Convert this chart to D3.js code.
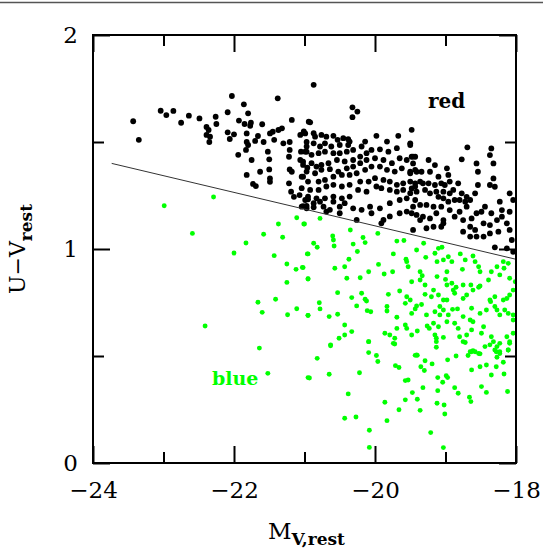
<!DOCTYPE html>
<html>
<head>
<meta charset="utf-8">
<script src="https://cdn.jsdelivr.net/npm/d3@7"></script>
<style>
  html, body { margin: 0; padding: 0; background: #fff; }
  svg { display: block; }
  .tick text { font-family: "DejaVu Serif", serif; font-size: 23px; fill: #000; }
</style>
</head>
<body>
<svg id="chart" width="543" height="553"></svg>
<script>
// Rest-frame colour-magnitude diagram: red sequence (black) vs blue cloud (green)
const xDomain = [-24, -18];
const yDomain = [0, 2];
const xMajorTicks = [-24, -22, -20, -18];
const xMinorTicks = [-23, -21, -19];
const yMajorTicks = [0, 1, 2];
const yMinorTicks = [0.5, 1.5];

// separating line between the two populations [M_V, U-V]
const dividerLine = [[-23.735, 1.400], [-18.0, 0.952]];

// red-sequence galaxies [M_V, U-V]
const redGalaxies = [
  [-23.43,1.597],[-23.35,1.51],[-23.04,1.646],[-22.96,1.626],[-22.86,1.645],[-22.75,1.59],[-22.64,1.623],[-22.49,1.61],
  [-22.39,1.57],[-22.36,1.556],[-22.39,1.533],[-22.34,1.525],[-22.35,1.50],[-22.26,1.618],[-22.25,1.584],[-22.09,1.639],
  [-22.09,1.545],[-22.06,1.514],[-22.0,1.536],[-22.03,1.715],[-21.93,1.60],[-21.86,1.676],[-21.80,1.634],[-21.85,1.584],
  [-21.76,1.59],[-21.77,1.576],[-21.94,1.44],[-21.82,1.54],[-21.82,1.50],[-21.80,1.486],[-21.83,1.463],[-21.75,1.416],
  [-21.82,1.346],[-21.73,1.304],[-21.69,1.294],[-21.70,1.505],[-21.66,1.528],[-21.60,1.583],[-21.58,1.50],[-21.63,1.361],
  [-21.52,1.455],[-21.50,1.419],[-21.50,1.372],[-21.49,1.33],[-21.49,1.314],[-21.49,1.54],[-21.45,1.548],[-21.43,1.51],
  [-21.37,1.556],[-21.38,1.704],[-21.32,1.564],[-21.30,1.494],[-21.21,1.50],[-21.18,1.603],[-21.21,1.463],[-21.22,1.431],
  [-21.21,1.372],[-21.18,1.361],[-21.22,1.307],[-21.19,1.268],[-21.15,1.244],[-21.07,1.252],[-21.04,1.338],[-21.02,1.408],
  [-21.05,1.455],[-21.06,1.533],[-20.99,1.54],[-20.97,1.50],[-20.97,1.455],[-21.02,1.20],[-20.97,1.19],[-20.95,1.232],
  [-20.94,1.595],[-20.96,1.38],[-20.87,1.767],[-20.32,1.662],
  [-20.92,1.592],[-20.32,1.616],[-20.25,1.642],[-21.01,1.549],[-20.87,1.541],[-20.85,1.525],[-20.76,1.533],[-20.69,1.525],
  [-20.59,1.529],[-20.53,1.510],[-20.45,1.518],[-20.38,1.513],[-20.36,1.502],[-20.38,1.486],[-20.50,1.486],[-20.62,1.479],
  [-20.71,1.494],[-20.78,1.479],[-20.87,1.494],[-20.97,1.479],[-20.99,1.455],[-20.90,1.440],[-20.80,1.448],[-20.71,1.455],
  [-20.59,1.448],[-20.50,1.448],[-20.40,1.455],[-20.31,1.463],[-20.19,1.479],[-20.14,1.502],[-19.98,1.529],[-19.83,1.502],
  [-19.67,1.529],[-19.48,1.557],[-19.50,1.494],[-19.69,1.471],[-19.81,1.455],[-19.93,1.466],[-20.05,1.463],[-20.12,1.448],
  [-20.21,1.432],[-20.31,1.416],[-20.43,1.409],[-20.54,1.416],[-20.66,1.401],[-20.76,1.393],[-20.83,1.385],[-20.90,1.401],
  [-21.02,1.393],[-21.06,1.416],[-20.97,1.362],[-20.85,1.354],[-20.76,1.370],[-20.64,1.373],[-20.52,1.362],[-20.40,1.377],
  [-20.31,1.385],[-20.21,1.401],[-20.12,1.416],[-20.00,1.424],[-19.88,1.416],[-19.76,1.401],[-19.65,1.424],[-19.55,1.416],
  [-19.46,1.432],[-19.43,1.370],[-19.50,1.354],[-19.62,1.377],[-19.72,1.362],[-19.83,1.370],[-19.93,1.385],[-20.05,1.385],
  [-20.14,1.370],[-20.26,1.354],[-20.36,1.346],[-20.47,1.346],[-20.59,1.338],[-20.71,1.323],[-20.80,1.315],[-20.95,1.315],
  [-21.02,1.338],[-21.04,1.284],[-20.92,1.276],[-20.80,1.276],[-20.69,1.292],[-20.59,1.300],[-20.47,1.292],[-20.36,1.300],
  [-20.21,1.315],[-20.09,1.315],[-20.00,1.331],[-19.88,1.323],[-19.79,1.315],[-19.69,1.300],[-19.60,1.307],[-19.50,1.315],
  [-19.43,1.292],[-19.50,1.261],[-19.60,1.276],[-19.69,1.268],[-19.79,1.276],[-19.91,1.284],[-19.98,1.292],[-20.12,1.268],
  [-20.24,1.276],[-20.36,1.245],[-20.47,1.237],[-20.59,1.245],[-20.71,1.237],[-20.83,1.237],[-20.95,1.245],[-20.99,1.229],
  [-21.04,1.198],[-20.97,1.201],[-20.87,1.195],[-20.73,1.198],[-20.64,1.183],[-20.50,1.198],[-20.43,1.214],[-20.31,1.190],
  [-20.19,1.183],[-20.07,1.198],[-19.93,1.190],[-19.79,1.214],[-19.65,1.229],[-19.55,1.237],[-19.46,1.198],[-19.55,1.175],
  [-19.65,1.167],[-19.79,1.152],[-19.88,1.136],[-19.91,1.120],[-20.05,1.167],[-20.26,1.136],[-20.50,1.167],[-20.69,1.175],
  [-20.59,1.221],[-20.78,1.221],[-20.87,1.214],
  [-19.50,1.486],[-19.48,1.431],[-19.43,1.431],[-19.46,1.400],[-19.50,1.361],[-19.41,1.361],[-19.34,1.361],[-19.24,1.416],
  [-19.22,1.361],[-19.15,1.392],[-19.10,1.338],[-19.06,1.307],[-18.98,1.377],[-18.96,1.346],[-18.94,1.315],[-19.01,1.299],
  [-19.15,1.299],[-19.24,1.307],[-19.32,1.307],[-19.36,1.315],[-19.43,1.307],[-19.48,1.283],[-19.41,1.268],[-19.29,1.276],
  [-19.22,1.260],[-19.13,1.268],[-19.03,1.268],[-18.94,1.260],[-18.89,1.276],[-18.82,1.307],[-18.77,1.260],[-18.70,1.244],
  [-18.72,1.221],[-18.80,1.229],[-18.87,1.229],[-18.96,1.221],[-19.03,1.237],[-19.10,1.244],[-19.06,1.198],[-19.17,1.198],
  [-19.27,1.206],[-19.36,1.206],[-19.43,1.229],[-19.48,1.167],[-19.41,1.159],[-19.32,1.151],[-19.22,1.143],[-19.13,1.167],
  [-19.03,1.135],[-18.94,1.182],[-18.87,1.151],[-18.80,1.174],[-18.70,1.198],[-18.65,1.229],[-18.58,1.260],[-18.54,1.299],
  [-18.54,1.361],[-18.56,1.400],[-18.37,1.439],[-18.35,1.470],[-18.32,1.400],[-18.32,1.330],[-18.30,1.291],[-18.37,1.299],
  [-18.23,1.221],[-18.20,1.182],[-18.35,1.167],[-18.44,1.198],[-18.49,1.174],[-18.56,1.167],[-18.63,1.143],[-18.75,1.135],
  [-18.65,1.104],[-18.58,1.089],[-18.46,1.120],[-18.37,1.112],[-18.27,1.135],[-18.20,1.151],[-18.09,1.260],[-18.04,1.229],
  [-18.09,1.174],[-18.13,1.120],[-18.09,1.089],[-18.25,1.081],[-18.37,1.073],[-18.46,1.058],[-18.56,1.058],[-18.65,1.058],
  [-18.75,1.081],[-19.27,1.097],[-19.17,1.104],[-19.06,1.104],[-19.03,1.120],[-19.46,1.089],[-19.36,1.135],[-18.69,1.475],
  [-18.77,1.419],[-18.30,1.008],[-18.13,1.003],[-18.04,0.987],[-18.06,1.042]
];

// blue-cloud galaxies [M_V, U-V]
const blueGalaxies = [
  [-22.99,1.202],[-22.29,1.243],[-22.59,1.073],[-22.0,0.981],[-21.83,1.028],[-21.58,1.069],[-21.37,1.117],[-21.31,1.055],
  [-21.11,1.146],[-21.0,1.117],[-21.43,0.969],[-20.95,0.977],[-21.25,0.93],[-21.12,0.905],[-21.02,0.913],[-21.25,0.844],
  [-20.95,0.861],[-21.66,0.751],[-21.41,0.765],[-21.60,0.704],[-21.24,0.693],[-21.11,0.721],[-20.95,0.69],[-22.41,0.64],
  [-21.64,0.537],[-21.52,0.419],[-20.95,0.399],
  [-21.01,1.117],[-20.78,1.143],[-20.60,1.061],[-20.59,1.042],[-20.58,1.014],[-20.35,1.089],[-20.31,1.023],[-20.17,1.054],
  [-20.14,1.030],[-19.96,1.073],[-19.69,1.037],[-19.59,1.040],[-19.41,0.995],[-19.31,1.027],[-19.15,0.980],[-19.10,1.003],
  [-19.05,1.008],[-18.79,0.977],[-20.87,1.027],[-20.82,1.008],
  [-20.96,0.977],[-21.03,0.914],[-20.95,0.860],[-20.57,0.910],[-20.43,0.917],[-20.37,0.952],[-20.25,0.988],[-20.09,0.894],
  [-19.95,0.928],[-19.87,0.883],[-19.75,0.894],[-19.74,0.977],[-19.55,0.941],[-19.53,0.917],[-19.56,0.952],[-19.36,0.894],
  [-19.33,0.875],[-19.28,0.961],[-19.12,0.941],[-19.03,0.949],[-18.96,0.964],[-18.91,0.941],[-18.98,0.894],[-18.76,0.905],
  [-18.72,0.949],[-18.61,0.967],[-18.58,0.941],[-18.53,0.917],[-18.51,0.894],[-18.35,0.894],[-18.27,0.917],[-18.18,0.941],
  [-18.11,0.933],[-18.17,0.910],[-18.09,0.863],[-20.40,0.863],[-20.21,0.866],[-19.48,0.847],[-19.36,0.855],[-19.29,0.832],
  [-19.12,0.871],[-19.00,0.858],[-18.98,0.832],[-18.91,0.840],[-18.85,0.821],[-18.75,0.832],[-18.64,0.832],[-18.51,0.827],
  [-18.39,0.855],[-18.23,0.879],
  [-20.53,0.796],[-20.33,0.773],[-20.19,0.793],[-20.14,0.765],[-20.12,0.757],[-19.81,0.788],[-19.65,0.804],[-19.55,0.777],
  [-19.50,0.762],[-19.57,0.746],[-19.43,0.720],[-19.34,0.741],[-19.29,0.788],[-19.20,0.777],[-19.17,0.808],[-19.10,0.785],
  [-19.03,0.762],[-19.08,0.731],[-18.98,0.762],[-18.89,0.808],[-18.87,0.793],[-18.75,0.769],[-18.70,0.785],[-18.61,0.808],
  [-18.53,0.821],[-18.37,0.762],[-18.30,0.777],[-18.18,0.762],[-18.13,0.769],[-18.09,0.785],[-18.04,0.808],[-18.01,0.847],
  [-20.79,0.749],[-20.78,0.720],[-20.95,0.689],[-20.65,0.684],[-20.53,0.695],[-20.26,0.734],[-20.11,0.712],[-20.06,0.707],
  [-19.83,0.731],[-19.83,0.710],[-19.69,0.681],[-19.48,0.699],[-19.41,0.734],[-19.27,0.692],[-19.15,0.707],[-19.08,0.692],
  [-19.03,0.715],[-18.96,0.692],[-18.90,0.718],[-18.83,0.720],[-18.75,0.684],[-18.63,0.723],[-18.51,0.699],[-18.42,0.715],
  [-18.36,0.754],[-18.30,0.731],[-18.27,0.715],[-18.23,0.692],[-18.11,0.699],[-18.16,0.715],[-18.04,0.692],
  [-20.43,0.645],[-20.33,0.614],[-20.51,0.583],[-20.43,0.598],[-20.63,0.548],[-20.09,0.567],[-20.09,0.516],[-19.98,0.502],
  [-19.86,0.606],[-19.79,0.598],[-19.69,0.629],[-19.72,0.583],[-19.74,0.559],[-19.57,0.645],[-19.55,0.629],[-19.48,0.598],
  [-19.40,0.617],[-19.41,0.505],[-19.26,0.640],[-19.23,0.629],[-19.17,0.653],[-19.15,0.598],[-19.13,0.583],[-19.10,0.637],
  [-19.03,0.587],[-19.13,0.567],[-18.98,0.660],[-18.87,0.653],[-18.82,0.629],[-18.80,0.590],[-18.75,0.567],[-18.70,0.598],
  [-18.65,0.668],[-18.61,0.660],[-18.63,0.622],[-18.65,0.520],[-18.61,0.525],[-18.53,0.512],[-18.46,0.637],[-18.49,0.606],
  [-18.44,0.544],[-18.35,0.590],[-18.32,0.567],[-18.27,0.544],[-18.23,0.559],[-18.28,0.520],[-18.23,0.512],[-18.13,0.590],
  [-18.04,0.606],[-18.09,0.559],[-18.11,0.528],[-18.04,0.668],
  [-20.93,0.397],[-20.82,0.489],[-20.65,0.415],[-20.63,0.552],[-20.38,0.323],[-20.43,0.209],[-20.27,0.215],[-20.22,0.422],
  [-20.09,0.567],[-19.96,0.474],[-20.08,0.153],[-20.08,0.073],[-19.86,0.284],[-19.83,0.198],[-19.72,0.556],[-19.71,0.455],
  [-19.66,0.446],[-19.66,0.249],[-19.57,0.385],[-19.53,0.388],[-19.57,0.295],[-19.47,0.329],[-19.43,0.503],[-19.40,0.503],
  [-19.40,0.298],[-19.36,0.246],[-19.35,0.450],[-19.30,0.432],[-19.29,0.478],[-19.32,0.352],[-19.19,0.463],[-19.21,0.142],
  [-19.13,0.541],[-19.11,0.399],[-19.11,0.338],[-19.12,0.279],[-19.04,0.377],[-19.02,0.271],[-19.01,0.229],[-18.99,0.408],
  [-18.97,0.399],[-18.97,0.482],[-19.03,0.072],[-18.87,0.352],[-18.85,0.500],[-18.82,0.326],[-18.72,0.563],[-18.66,0.307],
  [-18.64,0.287],[-18.63,0.435],[-18.68,0.502],[-18.63,0.520],[-18.58,0.520],[-18.51,0.510],[-18.51,0.450],[-18.49,0.357],
  [-18.42,0.330],[-18.42,0.458],[-18.37,0.552],[-18.35,0.411],[-18.28,0.450],[-18.27,0.494],[-18.23,0.520],[-18.18,0.471],
  [-18.17,0.416],[-18.12,0.334],[-18.11,0.528],[-18.09,0.567],[-18.30,0.528]
];

const svg = d3.select("#chart");
const plot = { left: 93, right: 516, top: 35, bottom: 463 };

const x = d3.scaleLinear().domain(xDomain).range([plot.left, plot.right]);
const y = d3.scaleLinear().domain(yDomain).range([plot.bottom, plot.top]);

// page rule along the top edge
svg.append("line")
  .attr("x1", 0).attr("x2", 543).attr("y1", 2.5).attr("y2", 2.5)
  .attr("stroke", "#555").attr("stroke-width", 1.6);

svg.append("clipPath").attr("id", "plotClip")
  .append("rect")
  .attr("x", plot.left).attr("y", plot.top)
  .attr("width", plot.right - plot.left).attr("height", plot.bottom - plot.top);

const marks = svg.append("g").attr("clip-path", "url(#plotClip)");

marks.append("g").selectAll("circle")
  .data(blueGalaxies).join("circle")
  .attr("cx", d => x(d[0])).attr("cy", d => y(d[1]))
  .attr("r", 2.45).attr("fill", "#00ff00");

marks.append("g").selectAll("circle")
  .data(redGalaxies).join("circle")
  .attr("cx", d => x(d[0])).attr("cy", d => y(d[1]))
  .attr("r", 2.9).attr("fill", "#000");

marks.append("path")
  .datum(dividerLine)
  .attr("d", d3.line().x(d => x(d[0])).y(d => y(d[1])))
  .attr("fill", "none").attr("stroke", "#333").attr("stroke-width", 1);

// axes with inward ticks on all four sides
const fmtX = d3.format("d");
function styleAxis(g) {
  g.select(".domain").remove();
  g.selectAll(".tick line").attr("stroke", "#000").attr("stroke-width", 2);
}
svg.append("g").attr("transform", `translate(0,${plot.bottom})`)
  .call(d3.axisBottom(x).tickValues(xMajorTicks).tickSize(-17).tickPadding(19).tickFormat(fmtX))
  .call(styleAxis);
svg.append("g").attr("transform", `translate(0,${plot.bottom})`)
  .call(d3.axisBottom(x).tickValues(xMinorTicks).tickSize(-11).tickFormat(""))
  .call(styleAxis);
svg.append("g").attr("transform", `translate(0,${plot.top})`)
  .call(d3.axisTop(x).tickValues(xMajorTicks).tickSize(-17).tickFormat(""))
  .call(styleAxis);
svg.append("g").attr("transform", `translate(0,${plot.top})`)
  .call(d3.axisTop(x).tickValues(xMinorTicks).tickSize(-11).tickFormat(""))
  .call(styleAxis);
svg.append("g").attr("transform", `translate(${plot.left},0)`)
  .call(d3.axisLeft(y).tickValues(yMajorTicks).tickSize(-17).tickPadding(15).tickFormat(d3.format("d")))
  .call(styleAxis);
svg.append("g").attr("transform", `translate(${plot.left},0)`)
  .call(d3.axisLeft(y).tickValues(yMinorTicks).tickSize(-11).tickFormat(""))
  .call(styleAxis);
svg.append("g").attr("transform", `translate(${plot.right},0)`)
  .call(d3.axisRight(y).tickValues(yMajorTicks).tickSize(-17).tickFormat(""))
  .call(styleAxis);
svg.append("g").attr("transform", `translate(${plot.right},0)`)
  .call(d3.axisRight(y).tickValues(yMinorTicks).tickSize(-11).tickFormat(""))
  .call(styleAxis);

svg.append("rect")
  .attr("x", plot.left).attr("y", plot.top)
  .attr("width", plot.right - plot.left).attr("height", plot.bottom - plot.top)
  .attr("fill", "none").attr("stroke", "#000").attr("stroke-width", 2);

// population labels
svg.append("text")
  .attr("x", 428).attr("y", 108)
  .attr("font-family", "DejaVu Serif, serif").attr("font-weight", "bold")
  .attr("font-size", 20).attr("fill", "#000")
  .text("red");
svg.append("text")
  .attr("x", 212).attr("y", 385)
  .attr("font-family", "DejaVu Serif, serif").attr("font-weight", "bold")
  .attr("font-size", 19).attr("fill", "#00ff00")
  .text("blue");

// axis titles
const xTitle = svg.append("text")
  .attr("x", (plot.left + plot.right) / 2 + 2).attr("y", 539)
  .attr("text-anchor", "middle")
  .attr("font-family", "DejaVu Serif, serif").attr("font-size", 23).attr("fill", "#000");
xTitle.append("tspan").text("M");
xTitle.append("tspan").attr("dy", 6).attr("font-size", 17).attr("font-weight", "bold").text("V,rest");

const yTitle = svg.append("text")
  .attr("transform", `translate(25,${(plot.top + plot.bottom) / 2}) rotate(-90)`)
  .attr("text-anchor", "middle")
  .attr("font-family", "DejaVu Serif, serif").attr("font-size", 22).attr("fill", "#000");
yTitle.append("tspan").text("U\u2212V");
yTitle.append("tspan").attr("dy", 7).attr("font-size", 17).attr("font-weight", "bold").text("rest");
</script>
</body>
</html>
